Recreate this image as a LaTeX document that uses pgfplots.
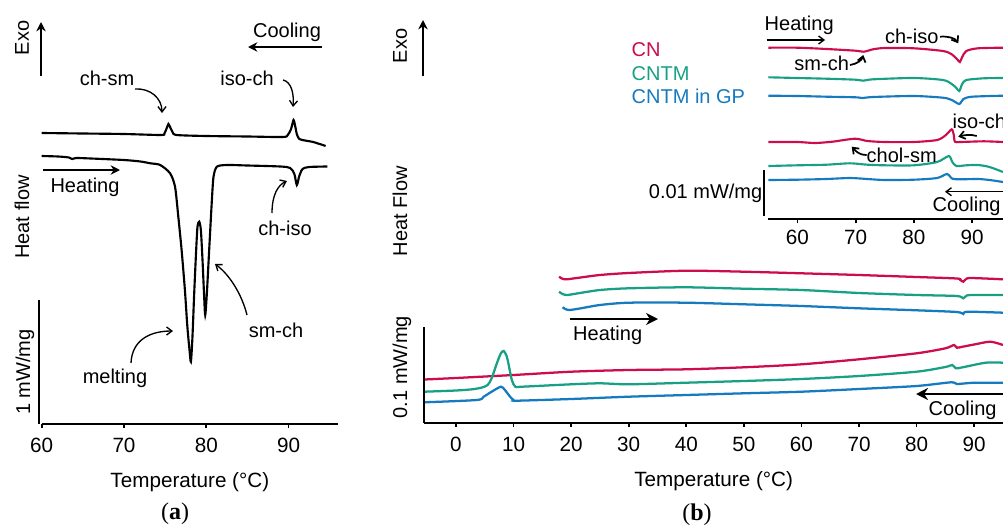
\documentclass[border=0pt]{standalone}
\usepackage{fontspec}
\setmainfont{Liberation Sans}
\newfontfamily\serif{Liberation Serif}
\usepackage{pgfplots}
\pgfplotsset{compat=1.18}
\usetikzlibrary{arrows.meta}
\definecolor{cnred}{RGB}{204,12,76}
\definecolor{cngreen}{RGB}{24,160,132}
\definecolor{cnblue}{RGB}{22,122,190}
\pgfplotsset{
  dsc/.style={
    scale only axis, clip=false,
    axis x line=bottom, axis y line=none,
    axis line style={-}, x axis line style={-, line width=1.5pt},
    xtick align=outside, major tick length=3pt,
    major tick style={line width=1.3pt, black},
    ymin=0, ytick=\empty,
    /pgf/number format/assume math mode=true,
    ticklabel style={font=\fontsize{15.5}{18}\selectfont, black},
    xticklabel style={yshift=-4pt},
    xlabel style={font=\fontsize{15.5}{18}\selectfont, yshift=-8pt},
    every axis plot/.append style={line width=1.6pt, smooth, tension=0.45, mark=none},
  }
}
\tikzset{
  thin arr/.style={line width=1pt, -{Straight Barb[length=4pt,width=6pt]}},
  mid arr/.style={line width=1.3pt, -{Straight Barb[length=4pt,width=6pt]}},
  big arr/.style={line width=1.5pt, -{Stealth[length=7pt,width=7pt]}},
  huge arr/.style={line width=2pt, -{Stealth[length=9pt,width=9pt]}},
}
\begin{document}
\begin{tikzpicture}[x=0.75pt, y=-0.75pt, font=\fontsize{15}{18}\selectfont]
\path[use as bounding box] (0,0) rectangle (1003,525);

% ---------------- panel (a)
\begin{axis}[dsc, at={(31.275pt,-318pt)}, anchor=south west, width=222.2pt, height=243pt,
  xmin=60, xmax=96, xtick={60,70,80,90}, ymax=324, xlabel={Temperature (°C)}]
% cooling
\addplot[black] coordinates {(60,291) (65,290.5) (70,290) (74.5,289) (74.9,290.5) (75.2,296) (75.4,300) (75.6,297) (75.9,292) (76.4,289) (80,288) (85,287.5) (89.3,287) (89.9,289) (90.3,295) (90.6,304) (90.8,298) (91.0,290) (91.3,285) (92,283.5) (93,282) (94.5,278)};
% heating
\addplot[black] coordinates {(60,268) (62,267.5) (63.3,266.5) (63.7,265) (64.2,266) (66,265.5) (70,264) (72,262.5) (73.2,260.7) (74.4,259) (75.6,250.7) (76.2,237.3) (76.6,207.3) (77.0,174) (77.4,134) (77.7,97.3) (77.96,74) (78.13,62.3) (78.32,87.3) (78.53,130.7) (78.77,174) (78.93,197.3) (79.14,202.3) (79.34,194) (79.54,164) (79.74,127.3) (79.87,109) (80.07,130.7) (80.35,174) (80.68,224) (80.88,247.3) (81.29,257.3) (82.5,259) (85,258.5) (89,257.5) (90.2,256) (90.7,250) (91.0,239) (91.3,248) (91.7,255) (92.5,257) (94.7,257.5)};
\end{axis}

\node[rotate=90] at (22,38) {Exo};
\draw[big arr] (41,76) -- (41,22);
\node at (287,32) {Cooling};
\draw[big arr] (322,47) -- (248,47);
\node at (107,78) {ch-sm};
\draw[thin arr] (135,89) .. controls (150,88) and (162,98) .. (162,113);
\node at (247,78) {iso-ch};
\draw[thin arr] (283,80) .. controls (292,82) and (294,95) .. (293,107);
\node at (85,187) {Heating};
\draw[big arr] (43,170) -- (120,170);
\node[rotate=90] at (22,217) {Heat flow};
\node at (285,228) {ch-iso};
\draw[thin arr] (272,213) .. controls (272,195) and (278,185) .. (287,181);
\node at (276,330) {sm-ch};
\draw[thin arr] (247,315) .. controls (242,295) and (230,275) .. (215,264);
\node at (115,378) {melting};
\draw[thin arr] (131,363) .. controls (132,340) and (150,331) .. (173,331);
\node[rotate=90] at (25,372) {1 mW/mg};
\draw[line width=1.5pt] (39.3,300) -- (39.3,424);
\node[font=\serif\fontsize{18}{20}\selectfont] at (175,514) {(\textbf{a})};

% ---------------- panel (b) main
\begin{axis}[dsc, at={(318.225pt,-317.25pt)}, anchor=south west, width=434pt, height=120pt,
  xmin=-5.5, xmax=95, xtick={0,10,...,90}, ymax=160, xlabel={Temperature (°C)},
  every axis plot/.append style={line width=1.7pt}]
% heating
\addplot[cnred] coordinates {(17.9,146.3) (18.5,144.2) (19.2,143.7) (21,145) (25,148) (30,150) (40,152.3) (50,151.3) (60,149.7) (70,148) (80,146) (87,144.5) (87.6,143) (88.1,141.3) (88.6,144) (89.5,145) (95,143.7)};
\addplot[cngreen] coordinates {(17.9,131.3) (18.5,129) (19.3,128) (21,129.5) (25,133) (30,134.7) (40,135.7) (50,134.3) (60,133) (70,130) (80,128) (87,127) (88.1,124.7) (88.7,127.5) (90,128) (95,128)};
\addplot[cnblue] coordinates {(18.5,115.7) (19,114) (19.7,113) (21.5,114.5) (25,118) (30,120.3) (40,120.3) (50,118.7) (60,117) (70,114.7) (80,112.7) (87,111) (88.1,109) (88.8,111.3) (95,110.3)};
% cooling
\addplot[cnred] coordinates {(-5.5,43.5) (0,45) (10,48) (20,51.3) (30,53) (40,53.7) (50,55.7) (60,58.7) (70,63.7) (80,69.7) (85,74.7) (86.5,78) (87.0,75.3) (88,76.3) (90,78.5) (92.8,81.3) (95,78)};
\addplot[cngreen] coordinates {(-5.5,31.3) (0,32.5) (3,33.8) (4.5,35.5) (5.5,38) (6.2,44.7) (7.1,59.7) (7.8,69.7) (8.3,72) (8.8,67) (9.1,59.7) (9.7,43) (10.3,36.3) (11.5,36.3) (20,38.7) (25,39.7) (30,38.7) (40,40.3) (50,42) (60,44) (70,47) (80,51.3) (85,56) (86.2,58) (86.8,54.7) (88,55.7) (92,60.3) (95,60.3)};
\addplot[cnblue] coordinates {(-5.5,20.7) (3.6,23) (4.8,26.3) (6.2,31.3) (7.8,36.3) (8.5,33) (9.4,26.3) (10,23) (10.6,22.3) (20,24) (30,26.3) (40,28) (50,29.7) (60,31.3) (70,34) (80,37) (86,40.7) (87,39) (90,40.3) (95,40.3)};
\end{axis}

\node[rotate=90] at (400,46) {Exo};
\draw[big arr] (423,76) -- (423,20);
\node[rotate=90] at (400,211) {Heat Flow};
\node[rotate=90] at (402,367) {0.1 mW/mg};
\draw[line width=1.5pt] (424,327) -- (424,423);
\node at (607.7,335) {Heating};
\draw[huge arr] (570,319) -- (658,319);
\node[anchor=west] at (924,410.7) {Cooling};
\draw[huge arr] (1010,394) -- (916,394);
\node[font=\serif\fontsize{18}{20}\selectfont] at (697,515) {(\textbf{b})};

% ---------------- panel (b) inset
\begin{axis}[dsc, at={(576.225pt,-164.475pt)}, anchor=south west, width=176pt, height=150pt,
  xmin=55, xmax=95.3, xtick={60,70,80,90}, ymax=200,
  x axis line style={line width=1.3pt},
  xticklabel style={yshift=2.5pt}]
% heating
\addplot[cnred] coordinates {(55,171.6) (60,171.6) (65,170.3) (70,168.6) (71.4,167.6) (73,170) (75,171.3) (80,171) (85,168.3) (86.5,165) (87.4,160.3) (87.9,157.3) (88.3,162.3) (89,168.3) (91,171) (95.3,171.6)};
\addplot[cngreen] coordinates {(55,142) (60,141.3) (65,140.6) (70,139.6) (71.3,138.6) (73,140) (80,141.3) (85,139.3) (86.5,135.3) (87.3,131.3) (87.8,128.3) (88.3,135.3) (89,139.3) (92,141) (95.3,141.3)};
\addplot[cnblue] coordinates {(55,123.6) (60,123.3) (65,122.6) (70,122) (71.2,121.3) (73,122.3) (80,123.3) (85,121.6) (86.5,119.3) (87.8,115.3) (88.5,120.3) (90,122.6) (95.3,123.6)};
% cooling
\addplot[cnred] coordinates {(55,77.3) (60,77.3) (63,76.3) (66,77.6) (69.9,80.6) (72,78.3) (75,77.3) (80,77.3) (84,79.3) (85.5,84.3) (86.5,90) (86.85,84.3) (87.05,77.6) (88,77.3) (92,78) (95.3,77.3)};
\addplot[cngreen] coordinates {(55,53.3) (60,54) (65,54.6) (69,56) (72,54.6) (75,54) (80,54) (84,57.3) (86,63.3) (86.6,57.3) (87.3,53.3) (89,54) (91,54.3) (93,52.3) (95.3,47.3)};
\addplot[cnblue] coordinates {(55,39.3) (60,39.6) (65,40.3) (69,41.3) (72,40.3) (75,39.3) (80,39.6) (84,41.3) (85.7,45.3) (86.6,40.6) (88,40) (91,40.3) (93,39.3) (95.3,37.3)};
\end{axis}

\node[anchor=west, text=cnred] at (627,50) {CN};
\node[anchor=west, text=cngreen] at (627,73.3) {CNTM};
\node[anchor=west, text=cnblue] at (627,96.7) {CNTM in GP};
\node[anchor=west] at (760,25) {Heating};
\draw[thin arr] (766.7,40) -- (825,40);
\node at (911.7,36.7) {ch-iso};
\draw[mid arr] (940,36.7) .. controls (948,36) and (955,38) .. (958.3,43.3);
\node at (821.7,63.3) {sm-ch};
\draw[mid arr] (850,65) .. controls (857,64) and (862,60) .. (863.3,55);
\node[anchor=west] at (948,121.7) {iso-ch};
\draw[mid arr] (976.7,136) .. controls (970,134) and (965,135) .. (958.3,136.7);
\node at (901.7,155) {chol-sm};
\draw[mid arr] (866.7,155) .. controls (858,155) and (855,150) .. (851.7,146.7);
\node[anchor=west] at (928,206.7) {Cooling};
\draw[thin arr] (1010,191.7) -- (945,191.7);
\node[anchor=east] at (767,193) {0.01 mW/mg};
\draw[line width=1.3pt] (764,170) -- (764,216);
\end{tikzpicture}
\end{document}
